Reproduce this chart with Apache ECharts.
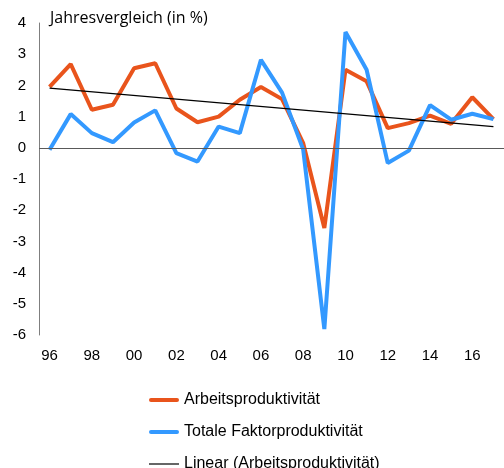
<!DOCTYPE html>
<html>
<head>
<meta charset="utf-8">
<script src="https://cdn.jsdelivr.net/npm/echarts@6/dist/echarts.min.js"></script>
<style>html,body{margin:0;padding:0;background:#fff;}#c{width:504px;height:468px;}</style>
</head>
<body>
<div id="c"></div>
<script>
const years = ['96','97','98','99','00','01','02','03','04','05','06','07','08','09','10','11','12','13','14','15','16','17'];
const arbeitsproduktivitaet = [1.95,2.68,1.22,1.38,2.55,2.71,1.26,0.82,1.0,1.54,1.95,1.56,0.15,-2.57,2.5,2.13,0.63,0.79,1.03,0.77,1.62,0.92];
const faktorproduktivitaet = [-0.06,1.08,0.47,0.18,0.81,1.2,-0.17,-0.44,0.68,0.47,2.82,1.77,-0.06,-5.81,3.71,2.5,-0.49,-0.09,1.37,0.9,1.09,0.92];
const trendStart = 1.91, trendEnd = 0.68;
const seriesNames = ['Arbeitsproduktivität','Totale Faktorproduktivität','Linear (Arbeitsproduktivität)'];
const yTicks = {min:-6, max:4, interval:1};

const thick = 'path://M2,0H28A2,2,0,0,1,28,4H2A2,2,0,0,1,2,0Z';
const thin = 'path://M0,0H30V1.2H0Z';

const chart = echarts.init(document.getElementById('c'), null, {renderer:'canvas'});
chart.setOption({
  animation:false,
  backgroundColor:'#fff',
  title:{text:'Jahresvergleich (in %)', left:45, top:5, textStyle:{fontFamily:'Open Sans', fontSize:16, fontWeight:'normal', color:'#000'}},
  grid:{left:39, top:23, width:468, height:312},
  xAxis:{type:'category', data:years, boundaryGap:true,
    axisLine:{show:false}, axisTick:{show:false},
    axisLabel:{interval:1, margin:13, fontFamily:'Liberation Sans', fontSize:15, color:'#000'}},
  yAxis:{type:'value', min:yTicks.min, max:yTicks.max, interval:yTicks.interval,
    splitLine:{show:false},
    axisLine:{show:true, lineStyle:{color:'#7f7f7f', width:1}},
    axisTick:{show:false},
    axisLabel:{margin:13, fontFamily:'Liberation Sans', fontSize:15, color:'#000'}},
  legend:{orient:'vertical', left:149, top:392, height:90, itemWidth:30, itemHeight:14, itemGap:16, padding:0,
    textStyle:{fontFamily:'Liberation Sans', fontSize:16, color:'#000'},
    data:[
      {name:seriesNames[0], icon:thick, itemStyle:{color:'#E9541C'}},
      {name:seriesNames[1], icon:thick, itemStyle:{color:'#3399FF'}},
      {name:seriesNames[2], icon:thin, itemStyle:{color:'#000'}}
    ]},
  series:[
    {name:seriesNames[0], type:'line', data:arbeitsproduktivitaet, symbol:'none', z:3,
     lineStyle:{color:'#E9541C', width:4}, itemStyle:{color:'#E9541C'},
     markLine:{silent:true, symbol:'none', label:{show:false}, lineStyle:{color:'#595959', width:1, type:'solid'}, data:[{yAxis:0}]}},
    {name:seriesNames[1], type:'line', data:faktorproduktivitaet, symbol:'none', z:4,
     lineStyle:{color:'#3399FF', width:4}, itemStyle:{color:'#3399FF'}},
    {name:seriesNames[2], type:'line', data:[[0,trendStart],[years.length-1,trendEnd]], symbol:'none', z:5,
     lineStyle:{color:'#000', width:1.2}, itemStyle:{color:'#000'}}
  ]
});
</script>
</body>
</html>
